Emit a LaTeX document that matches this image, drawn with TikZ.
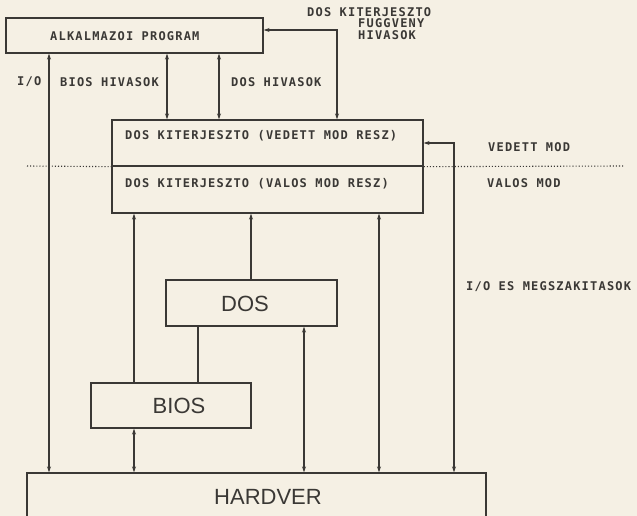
\documentclass[tikz,border=0pt]{standalone}
\usepackage{fontspec}
\usepackage{xcolor}
\definecolor{paper}{HTML}{F5F0E4}
\definecolor{ink}{HTML}{3A3835}
\newfontfamily\plotfont[LetterSpace=10]{DejaVu Sans Mono}
\newfontfamily\bigfont{Liberation Sans}
\usetikzlibrary{positioning,arrows.meta}

\begin{document}
\begin{tikzpicture}[x=1pt,y=-1pt,
      box/.style={draw=ink,line width=1.3pt,inner sep=0pt},
      lbl/.style={text=ink,inner sep=0pt,anchor=west,font=\plotfont\bfseries\fontsize{12}{13}\selectfont},
      big/.style={text=ink,inner sep=0pt,font=\bigfont\fontsize{22}{24}\selectfont},
      arrow/.style={draw=ink,line width=1.1pt,>={Stealth[length=6pt,width=4pt]}},
      modeline/.style={draw=ink,line width=1.1pt,dotted}]
      \useasboundingbox (0,0) rectangle (637,516);
      \clip (0,0) rectangle (637,516);
      \fill[paper] (0,0) rectangle (637,516);
      \node[box,minimum width=257pt,minimum height=35pt] (alk) at (134.5,35.5) {};
      \node[box,minimum width=311pt,minimum height=46pt] (vedett) at (267.5,143) {};
      \node[box,minimum width=311pt,minimum height=47pt] (valos) at (267.5,189.5) {};
      \node[box,minimum width=171pt,minimum height=46pt] (dos) at (251.5,303) {};
      \node[box,minimum width=160pt,minimum height=45pt] (bios) at (171,405.5) {};
      \node[box,minimum width=459pt,minimum height=70pt] (hw) at (256.5,508) {};
      \node[lbl] (alktext) at (50,36) {ALKALMAZOI PROGRAM};
      \node[lbl] (vedtext) at (125,136) {DOS KITERJESZTO (VEDETT MOD RESZ)};
      \node[lbl] (valtext) at (125,184) {DOS KITERJESZTO (VALOS MOD RESZ)};
      \node[big] (dostext) at (245,304) {DOS};
      \node[big] (biostext) at (179,406) {BIOS};
      \node[big] (hwtext) at (268,497) {HARDVER};
      \node[lbl] (fv1) at (307,12) {DOS KITERJESZTO};
      \node[lbl] (fv2) at (358,23.5) {FUGGVENY};
      \node[lbl] (fv3) at (358,35) {HIVASOK};
      \node[lbl] (io) at (17,82) {I/O};
      \node[lbl] (bioshiv) at (60,82) {BIOS HIVASOK};
      \node[lbl] (doshiv) at (231,82) {DOS HIVASOK};
      \node[lbl] (vedmod) at (488,147) {VEDETT MOD};
      \node[lbl] (valmod) at (487,183) {VALOS MOD};
      \node[lbl] (iomeg) at (466,287) {I/O ES MEGSZAKITASOK};
      \coordinate (xio) at (49,0);
      \coordinate (xbh) at (167,0);
      \coordinate (xdh) at (219,0);
      \coordinate (xbd) at (134,0);
      \coordinate (xdd) at (251,0);
      \coordinate (xhd) at (379,0);
      \coordinate (xdb) at (198,0);
      \coordinate (xhs) at (304,0);
      \coordinate (fv) at (337,30);
      \coordinate (irq) at (454,143);
      \coordinate (ml) at (27,166);
      \coordinate (mr) at (625,166);
      \draw[modeline] (ml) -- (vedett.south west);
      \draw[modeline] (vedett.south east) -- (mr);
      \draw[arrow,<->] (alk.south -| xio) -- (hw.north -| xio);
      \draw[arrow,<->] (alk.south -| xbh) -- (vedett.north -| xbh);
      \draw[arrow,<->] (alk.south -| xdh) -- (vedett.north -| xdh);
      \draw[arrow,<->] (alk.east |- fv) -- (fv) -- (vedett.north -| fv);
      \draw[arrow,<->] (vedett.east |- irq) -- (irq) -- (hw.north -| irq);
      \draw[arrow,->] (bios.north -| xbd) -- (valos.south -| xbd);
      \draw[arrow,->] (dos.north -| xdd) -- (valos.south -| xdd);
      \draw[arrow,<->] (hw.north -| xhd) -- (valos.south -| xhd);
      \draw[arrow] (dos.south -| xdb) -- (bios.north -| xdb);
      \draw[arrow,<->] (hw.north -| xhs) -- (dos.south -| xhs);
      \draw[arrow,<->] (bios.south -| xbd) -- (hw.north -| xbd);
    \end{tikzpicture}
\end{document}
